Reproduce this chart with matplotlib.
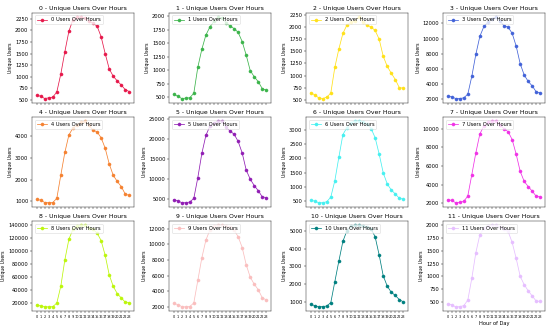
import matplotlib
matplotlib.use("Agg")
import matplotlib.pyplot as plt

hours = list(range(24))

colors = ["#e6194b", "#3cb44b", "#ffe119", "#4363d8", "#f58231", "#911eb4",
          "#46f0f0", "#f032e6", "#bcf60c", "#fabebe", "#008080", "#e6beff"]

users_0 = [600, 580, 530, 545, 560, 670, 1060, 1540, 1980, 2230, 2280, 2290,
           2260, 2200, 2150, 2090, 1860, 1500, 1170, 1010, 910, 820, 720, 680]
users_1 = [558, 525, 480, 487, 494, 577, 1057, 1390, 1650, 1800, 1900, 1985,
           1960, 1880, 1815, 1770, 1700, 1530, 1280, 995, 880, 790, 660, 635]
users_2 = [650, 604, 542, 528, 556, 640, 1170, 1549, 1868, 2042, 2100, 2130,
           2210, 2100, 2040, 2000, 1930, 1750, 1400, 1190, 1050, 920, 750, 745]
users_3 = [2350, 2260, 2040, 2040, 2130, 2610, 5000, 7910, 10300, 11600, 12200, 12650,
           12870, 12300, 11700, 11500, 10700, 9000, 6650, 5150, 4300, 3700, 2900, 2800]
users_4 = [1090, 1060, 950, 940, 950, 1140, 2215, 3260, 4060, 4380, 4520, 4650,
           4700, 4500, 4280, 4200, 3930, 3450, 2730, 2200, 1920, 1680, 1330, 1280]
users_5 = [4750, 4500, 4000, 4000, 4170, 5080, 10300, 16400, 20900, 23250, 24000, 24500,
           24500, 23000, 22000, 21200, 19400, 16500, 12200, 9900, 8300, 7000, 5450, 5300]
users_6 = [545, 510, 455, 455, 490, 650, 1220, 2040, 2830, 3070, 3250, 3300,
           3300, 3280, 3200, 3040, 2720, 2150, 1500, 1110, 900, 760, 610, 580]
users_7 = [2400, 2320, 2070, 2110, 2210, 2790, 5090, 7430, 9460, 10300, 10700, 10830,
           10830, 10400, 10000, 9700, 8850, 7280, 5430, 4350, 3800, 3300, 2750, 2700]
users_8 = [17400, 15800, 14700, 14200, 14700, 20000, 46300, 86800, 118400, 133700, 139000, 140000,
           140000, 136000, 133700, 128000, 116300, 93700, 63700, 45800, 34700, 27900, 21500, 21000]
users_9 = [2450, 2300, 2050, 2000, 2050, 2500, 5400, 8300, 10550, 11850, 12300, 12450,
           12450, 12400, 12200, 11800, 11000, 9600, 7400, 5800, 4900, 4200, 3150, 2900]
users_10 = [890, 810, 740, 760, 790, 980, 2150, 3300, 4400, 5000, 5250, 5300,
            5300, 5280, 5200, 5100, 4650, 3640, 2480, 1900, 1560, 1380, 1150, 1020]
users_11 = [470, 450, 410, 415, 435, 540, 965, 1460, 1810, 1930, 1980, 1990,
            1990, 1960, 1920, 1870, 1660, 1350, 1000, 840, 720, 620, 520, 520]

series = [users_0, users_1, users_2, users_3, users_4, users_5,
          users_6, users_7, users_8, users_9, users_10, users_11]

DPI = 550 / 15.0
fig, axes = plt.subplots(3, 4, figsize=(15, 331 / DPI), dpi=DPI, sharex=True)
for i, ax in enumerate(axes.flat):
    ax.plot(hours, series[i], marker="o", color=colors[i],
            label=f"{i} Users Over Hours")
    ax.set_title(f"{i} - Unique Users Over Hours")
    ax.set_ylabel("Unique Users", fontsize=9)
    ax.set_xticks(hours)
    ax.tick_params(axis="x", labelsize=7)
    ax.legend(loc="upper left")
axes[2, 3].set_xlabel("Hour of Day")

fig.subplots_adjust(left=32 / 550, right=545 / 550, top=1 - 12.8 / 331,
                    bottom=1 - 311 / 331, wspace=0.343, hspace=0.16)
fig.savefig("out.png", dpi=DPI)
